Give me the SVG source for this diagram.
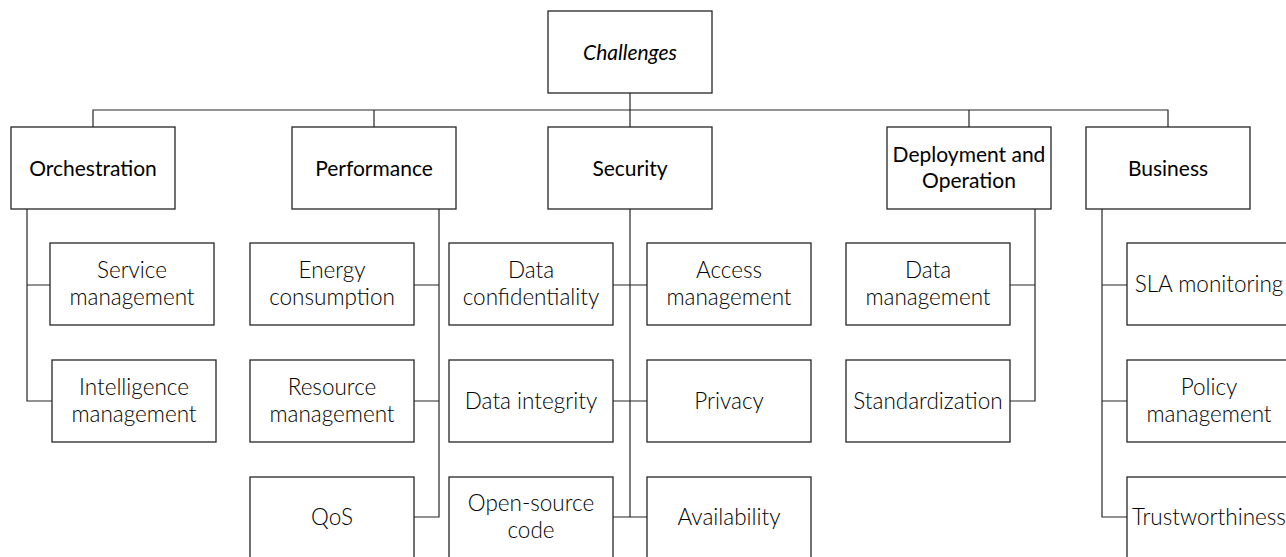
<svg xmlns="http://www.w3.org/2000/svg" width="1286" height="557" viewBox="0 0 1286 557">
<style>
.b{fill:#fff;stroke:#262626;stroke-width:1.3}
.c{fill:none;stroke:#262626;stroke-width:1.2}
.t{font-family:Lato,"Open Sans",sans-serif;font-size:21px;fill:#000;text-anchor:middle}
.l{font-weight:300;font-size:22.5px}
.i{font-style:italic}
</style>
<rect width="1286" height="557" fill="#fff"/>
<g id="connectors" class="c">
<path d="M630,93V127M93,127V110H1168V127M374,110V127M969,110V127"/>
<path d="M27,209V401H52M27,285H50"/>
<path d="M439,209V517H414M439,285H414M439,401H414"/>
<path d="M630,209V517M613,285H647M613,401H647M613,517H647"/>
<path d="M1035,209V401H1010M1035,285H1010"/>
<path d="M1102,209V517H1127M1102,285H1127M1102,401H1127"/>
</g>
<g id="challenges"><rect class="b" x="548" y="11" width="164" height="82"/><text class="t i" x="630" y="59.5">Challenges</text></g>
<g id="orchestration"><rect class="b" x="11" y="127" width="164" height="82"/><text class="t" x="93" y="175.5">Orchestration</text></g>
<g id="performance"><rect class="b" x="292" y="127" width="164" height="82"/><text class="t" x="374" y="175.5">Performance</text></g>
<g id="security"><rect class="b" x="548" y="127" width="164" height="82"/><text class="t" x="630" y="175.5">Security</text></g>
<g id="deployment"><rect class="b" x="887" y="127" width="164" height="82"/><text class="t" x="969" y="161.5">Deployment and</text><text class="t" x="969" y="187.5">Operation</text></g>
<g id="business"><rect class="b" x="1086" y="127" width="164" height="82"/><text class="t" x="1168" y="175.5">Business</text></g>

<g id="service-management"><rect class="b" x="50" y="243" width="164" height="82"/><text class="t l" x="132" y="278">Service</text><text class="t l" x="132" y="305">management</text></g>
<g id="intelligence-management"><rect class="b" x="52" y="360" width="164" height="82"/><text class="t l" x="134" y="395">Intelligence</text><text class="t l" x="134" y="422">management</text></g>

<g id="energy-consumption"><rect class="b" x="250" y="243" width="164" height="82"/><text class="t l" x="332" y="278">Energy</text><text class="t l" x="332" y="305">consumption</text></g>
<g id="resource-management"><rect class="b" x="250" y="360" width="164" height="82"/><text class="t l" x="332" y="395">Resource</text><text class="t l" x="332" y="422">management</text></g>
<g id="qos"><rect class="b" x="250" y="477" width="164" height="82"/><text class="t l" x="332" y="525">QoS</text></g>

<g id="data-confidentiality"><rect class="b" x="449" y="243" width="164" height="82"/><text class="t l" x="531" y="278">Data</text><text class="t l" x="531" y="305">confidentiality</text></g>
<g id="data-integrity"><rect class="b" x="449" y="360" width="164" height="82"/><text class="t l" x="531" y="408.5">Data integrity</text></g>
<g id="open-source-code"><rect class="b" x="449" y="477" width="164" height="82"/><text class="t l" x="531" y="511">Open-source</text><text class="t l" x="531" y="538">code</text></g>
<g id="access-management"><rect class="b" x="647" y="243" width="164" height="82"/><text class="t l" x="729" y="278">Access</text><text class="t l" x="729" y="305">management</text></g>
<g id="privacy"><rect class="b" x="647" y="360" width="164" height="82"/><text class="t l" x="729" y="408.5">Privacy</text></g>
<g id="availability"><rect class="b" x="647" y="477" width="164" height="82"/><text class="t l" x="729" y="525">Availability</text></g>

<g id="data-management"><rect class="b" x="846" y="243" width="164" height="82"/><text class="t l" x="928" y="278">Data</text><text class="t l" x="928" y="305">management</text></g>
<g id="standardization"><rect class="b" x="846" y="360" width="164" height="82"/><text class="t l" x="928" y="408.5">Standardization</text></g>

<g id="sla-monitoring"><rect class="b" x="1127" y="243" width="164" height="82"/><text class="t l" x="1209" y="291.5">SLA monitoring</text></g>
<g id="policy-management"><rect class="b" x="1127" y="360" width="164" height="82"/><text class="t l" x="1209" y="395">Policy</text><text class="t l" x="1209" y="422">management</text></g>
<g id="trustworthiness"><rect class="b" x="1127" y="477" width="164" height="82"/><text class="t l" x="1209" y="525">Trustworthiness</text></g>
</svg>
